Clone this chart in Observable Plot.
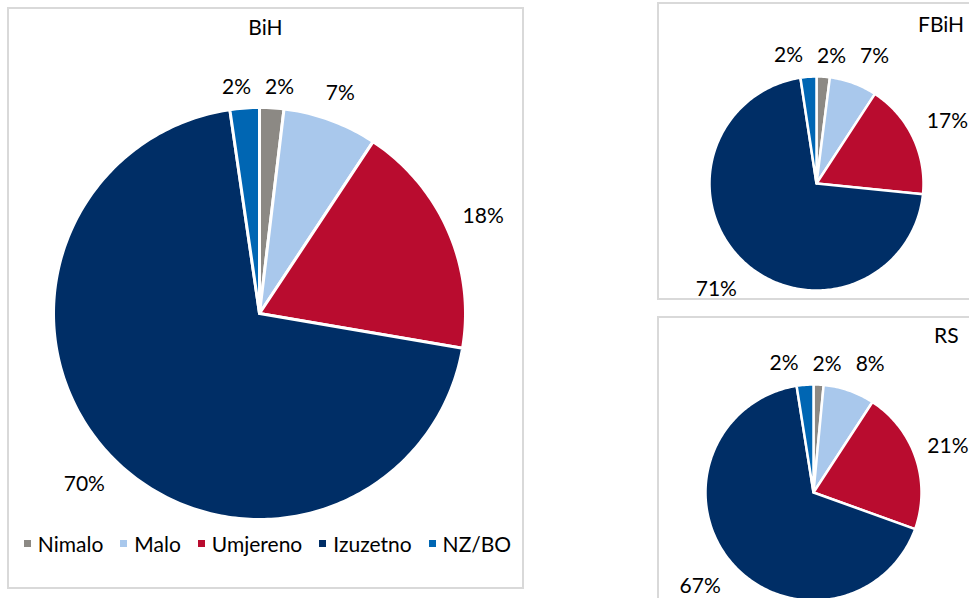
<!DOCTYPE html>
<html><head><meta charset="utf-8">
<script src="https://cdn.jsdelivr.net/npm/d3@7"></script>
<script src="https://cdn.jsdelivr.net/npm/@observablehq/plot@0.6"></script>
<style>
body{margin:0;width:969px;height:598px;overflow:hidden;background:#fff;font-family:Lato,sans-serif;position:relative}
.panel{position:absolute;border:2px solid #d9d9d9;box-sizing:border-box;background:#fff;overflow:hidden}
.panel svg{position:absolute;left:0;top:0}
.title{position:absolute;font-size:21px;line-height:21px;color:#000;white-space:nowrap}
.legend{position:absolute;display:flex;align-items:center;justify-content:center;gap:17px;font-size:21px;line-height:21px;color:#000}
.legend .item{display:flex;align-items:center;gap:7px;white-space:nowrap}
.legend .sw{width:7px;height:7px;display:inline-block}
</style></head><body>
<div id="bih" class="panel" style="left:7px;top:7px;width:517px;height:582px"></div>
<div id="fbih" class="panel" style="left:657px;top:2px;width:330px;height:298px"></div>
<div id="rs" class="panel" style="left:657px;top:316px;width:330px;height:300px"></div>
<script>
const categories = ["Nimalo", "Malo", "Umjereno", "Izuzetno", "NZ/BO"];
const colors = ["#8c8984", "#a9c8ec", "#b90c2f", "#002e66", "#0066b3"];

const bihTitle = "BiH";
const bihValues = [1.9, 7.4, 18.4, 70.0, 2.3];
const bihLabels = ["2%", "7%", "18%", "70%", "2%"];

const fbihTitle = "FBiH";
const fbihValues = [2.0, 7.2, 17.4, 71.0, 2.4];
const fbihLabels = ["2%", "7%", "17%", "71%", "2%"];

const rsTitle = "RS";
const rsValues = [1.5, 7.7, 21.3, 67.0, 2.5];
const rsLabels = ["2%", "8%", "21%", "67%", "2%"];

const FONT = 21;
const ctx = document.createElement("canvas").getContext("2d");
ctx.font = `${FONT}px Lato`;

function piePlot(values, labels, o) {
  const arcs = d3.pie().sort(null).value(d => d)(values);
  const pts = [];
  const boxes = [];
  const h = FONT * 0.95;
  arcs.forEach((a, i) => {
    const cat = categories[i];
    const n = Math.max(2, Math.ceil((a.endAngle - a.startAngle) / (Math.PI / 180)));
    pts.push({cat, x: 0, y: 0});
    for (let k = 0; k <= n; k++) {
      const t = a.startAngle + (a.endAngle - a.startAngle) * k / n;
      pts.push({cat, x: Math.sin(t), y: Math.cos(t)});
    }
    pts.push({cat, x: 0, y: 0});
    // outside-end label: box just outside the rim along the mid angle
    const m = (a.startAngle + a.endAngle) / 2;
    const w = ctx.measureText(labels[i]).width;
    const extra = (w / 2) * Math.abs(Math.sin(m)) + (h / 2) * Math.abs(Math.cos(m));
    const g = o.gap + 8 * Math.abs(Math.sin(2 * m));
    const R = o.r + g + extra;
    boxes.push({text: labels[i], w, px: R * Math.sin(m), py: -R * Math.cos(m)});
  });
  // resolve label collisions by pushing apart horizontally
  const pad = 14;
  for (let it = 0; it < 200; it++) {
    let moved = false;
    for (let i = 0; i < boxes.length; i++) for (let j = i + 1; j < boxes.length; j++) {
      const A = boxes[i], B = boxes[j];
      const dx = B.px - A.px, dy = B.py - A.py;
      const need = (A.w + B.w) / 2 + pad;
      if (Math.abs(dy) < h && Math.abs(dx) < need) {
        const s = (need - Math.abs(dx)) / 2 + 0.01;
        const dir = dx >= 0 ? 1 : -1;
        A.px -= dir * s; B.px += dir * s; moved = true;
      }
    }
    if (!moved) break;
  }
  // keep labels inside the visible area
  const maxRight = o.visibleWidth - o.cx - 1;
  boxes.forEach(b => { if (b.px + b.w / 2 > maxRight) b.px = maxRight - b.w / 2; });
  const lab = boxes.map(b => ({text: b.text, x: b.px / o.r, y: -b.py / o.r}));
  return Plot.plot({
    width: o.width, height: o.height,
    margin: 0,
    style: {fontFamily: "Lato, sans-serif", fontSize: FONT + "px", background: "transparent", overflow: "visible"},
    x: {axis: null, domain: [-o.cx / o.r, (o.width - o.cx) / o.r]},
    y: {axis: null, domain: [-(o.height - o.cy) / o.r, o.cy / o.r]},
    color: {domain: categories, range: colors},
    marks: [
      Plot.line(pts, {x: "x", y: "y", z: "cat", fill: "cat", stroke: "white", strokeWidth: o.sw, strokeLinejoin: "round"}),
      Plot.text(lab, {x: "x", y: "y", text: "text", fontSize: FONT, fill: "#000", textAnchor: "middle", lineAnchor: "middle"})
    ]
  });
}

function addTitle(el, text, style) {
  const t = document.createElement("div");
  t.className = "title";
  t.textContent = text;
  Object.assign(t.style, style);
  el.appendChild(t);
}

// BiH panel (content origin at page 9,9)
const bih = document.getElementById("bih");
bih.appendChild(piePlot(bihValues, bihLabels, {width: 513, height: 578, visibleWidth: 513, cx: 250, cy: 304, r: 206, gap: 9, sw: 3}));
addTitle(bih, bihTitle, {left: "0", width: "513px", textAlign: "center", top: "7px"});
const leg = document.createElement("div");
leg.className = "legend";
Object.assign(leg.style, {left: "2px", width: "513px", top: "524px"});
categories.forEach((c, i) => {
  const it = document.createElement("div");
  it.className = "item";
  const sw = document.createElement("span");
  sw.className = "sw";
  sw.style.background = colors[i];
  const tx = document.createElement("span");
  tx.textContent = c;
  it.appendChild(sw); it.appendChild(tx);
  leg.appendChild(it);
});
bih.appendChild(leg);

// FBiH panel (content origin at page 659,4); visible up to page x 969
const fbih = document.getElementById("fbih");
fbih.appendChild(piePlot(fbihValues, fbihLabels, {width: 326, height: 294, visibleWidth: 310, cx: 157, cy: 179, r: 107, gap: 9, sw: 2.5}));
addTitle(fbih, fbihTitle, {left: "259px", top: "9px"});

// RS panel (content origin at page 659,318)
const rs = document.getElementById("rs");
rs.appendChild(piePlot(rsValues, rsLabels, {width: 326, height: 296, visibleWidth: 310, cx: 154, cy: 174, r: 108, gap: 9, sw: 2.5}));
addTitle(rs, rsTitle, {left: "275px", top: "6px"});
</script>
</body></html>
